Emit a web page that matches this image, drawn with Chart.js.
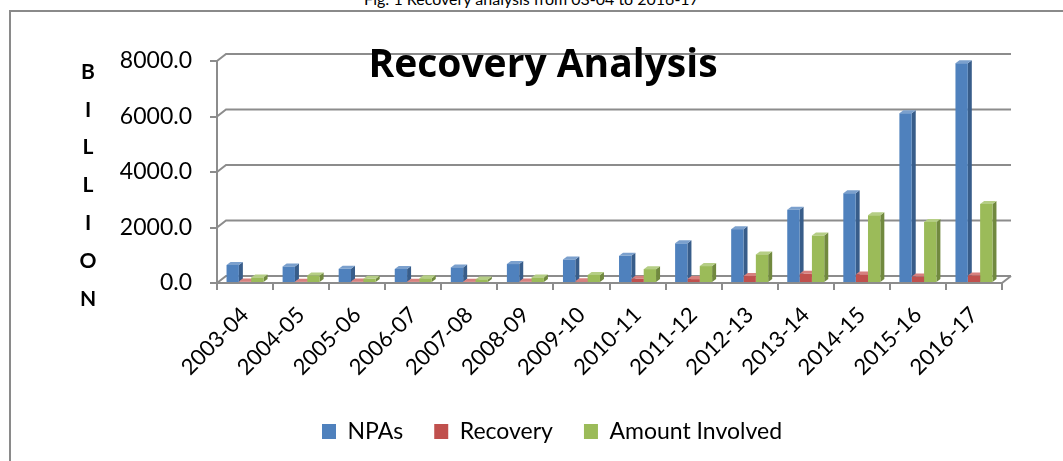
<!DOCTYPE html>
<html>
<head>
<meta charset="utf-8">
<script src="https://cdn.jsdelivr.net/npm/chart.js@4.4.0/dist/chart.umd.min.js"></script>
<style>
  html, body { margin: 0; padding: 0; background: #fff; }
  #wrap { position: relative; width: 1063px; height: 461px; overflow: hidden; }
  #caption { position: absolute; left: 0; top: -9px; width: 1063px; text-align: center;
             font: 16px Lato, sans-serif; line-height: 16px; color: #000; white-space: nowrap; }
  #frame { position: absolute; left: 9px; top: 10px; width: 1100px; height: 500px;
           border-top: 2px solid #8a8a8a; border-left: 2px solid #8a8a8a; }
  #chart { position: absolute; left: 0; top: 0; }
</style>
</head>
<body>
<div id="wrap">
  <div id="caption">Fig: 1 Recovery analysis from 03-04 to 2016-17</div>
  <div id="frame"></div>
  <canvas id="chart" width="1063" height="461"></canvas>
</div>
<script>
// values in billion
const years = ['2003-04', '2004-05', '2005-06', '2006-07', '2007-08', '2008-09', '2009-10',
               '2010-11', '2011-12', '2012-13', '2013-14', '2014-15', '2015-16', '2016-17'];
const npas = [648, 594, 511, 504, 563, 683, 846, 979, 1429, 1940, 2641, 3233, 6119, 7918];
const recovery = [50, 45, 50, 45, 45, 50, 60, 150, 140, 250, 330, 310, 230, 270];
const amountInvolved = [200, 270, 150, 170, 130, 200, 290, 500, 610, 1030, 1710, 2440, 2200, 2850];
const yTicks = [0, 2000, 4000, 6000, 8000];
const yAxisLetters = ['B', 'I', 'L', 'L', 'I', 'O', 'N'];

const frontColors = ['#4F81BD', '#C0504D', '#9BBB59'];
const sideColors = ['#385D8A', '#8C3836', '#71893F'];
const topColors = ['#7BA0CD', '#D7807E', '#B5CE85'];

const wallX = 9, wallY = 7;   // depth of the back wall
const barX = 4, barY = 3;     // depth of each column

const depth3d = {
  id: 'depth3d',
  beforeDatasetsDraw(chart) {
    const ctx = chart.ctx;
    const { left, right, bottom } = chart.chartArea;
    const ys = chart.scales.y;
    ctx.save();
    ctx.strokeStyle = '#8c8c8c';
    ctx.lineWidth = 2;
    yTicks.forEach(v => {
      const py = ys.getPixelForValue(v);
      ctx.beginPath();
      ctx.moveTo(left, py);
      ctx.lineTo(left + wallX, py - wallY);
      ctx.lineTo(right + wallX, py - wallY);
      ctx.stroke();
    });
    // right edge of the floor
    ctx.beginPath();
    ctx.moveTo(right, bottom);
    ctx.lineTo(right + wallX, bottom - wallY);
    ctx.stroke();

    // side and top faces of the columns, fronts are drawn by Chart.js on top
    chart.data.datasets.forEach((ds, di) => {
      chart.getDatasetMeta(di).data.forEach(bar => {
        const p = bar.getProps(['x', 'y', 'base', 'width'], true);
        const l = p.x - p.width / 2, r = p.x + p.width / 2;
        ctx.fillStyle = sideColors[di];
        ctx.beginPath();
        ctx.moveTo(r, p.y);
        ctx.lineTo(r + barX, p.y - barY);
        ctx.lineTo(r + barX, p.base - barY);
        ctx.lineTo(r, p.base);
        ctx.closePath();
        ctx.fill();
        ctx.fillStyle = topColors[di];
        ctx.beginPath();
        ctx.moveTo(l, p.y);
        ctx.lineTo(l + barX, p.y - barY);
        ctx.lineTo(r + barX, p.y - barY);
        ctx.lineTo(r, p.y);
        ctx.closePath();
        ctx.fill();
      });
    });
    ctx.restore();
  },
  afterDraw(chart) {
    const ctx = chart.ctx;
    ctx.save();
    ctx.fillStyle = '#000';
    ctx.textAlign = 'center';
    ctx.textBaseline = 'alphabetic';
    ctx.font = 'bold 39px "Open Sans"';
    ctx.fillText('Recovery Analysis', 543, 77);
    ctx.font = 'bold 21px Lato';
    ctx.textBaseline = 'middle';
    yAxisLetters.forEach((ch, i) => ctx.fillText(ch, 88, 72 + i * 37.8));
    ctx.restore();
  }
};

new Chart(document.getElementById('chart'), {
  type: 'bar',
  data: {
    labels: years,
    datasets: [
      { label: 'NPAs', data: npas, backgroundColor: frontColors[0] },
      { label: 'Recovery', data: recovery, backgroundColor: frontColors[1] },
      { label: 'Amount Involved', data: amountInvolved, backgroundColor: frontColors[2] }
    ]
  },
  options: {
    responsive: false,
    animation: false,
    layout: { padding: { left: 102, right: 61, top: 61, bottom: 8 } },
    datasets: { bar: { categoryPercentage: 0.66, barPercentage: 1.0 } },
    scales: {
      x: {
        afterFit: s => { s.height = 106; },
        grid: { drawOnChartArea: false, drawTicks: true, tickLength: 7, color: '#8c8c8c', lineWidth: 2 },
        border: { display: true, color: '#8c8c8c', width: 2 },
        ticks: { color: '#000', font: { family: 'Lato', size: 22 }, minRotation: 45, maxRotation: 45, padding: 12 }
      },
      y: {
        min: 0,
        max: 8000,
        afterFit: s => { s.width = 115; },
        afterBuildTicks: s => { s.ticks = yTicks.map(v => ({ value: v })); },
        grid: { drawOnChartArea: false, drawTicks: true, tickLength: 7, color: '#8c8c8c', lineWidth: 2 },
        border: { display: true, color: '#8c8c8c', width: 2 },
        ticks: { color: '#000', font: { family: 'Lato', size: 23 }, padding: 18,
                 callback: v => v.toFixed(1) }
      }
    },
    plugins: {
      legend: {
        position: 'bottom',
        labels: { color: '#000', font: { family: 'Lato', size: 23 }, boxWidth: 14, boxHeight: 15, padding: 31 }
      },
      tooltip: { enabled: false }
    }
  },
  plugins: [depth3d]
});
</script>
</body>
</html>
